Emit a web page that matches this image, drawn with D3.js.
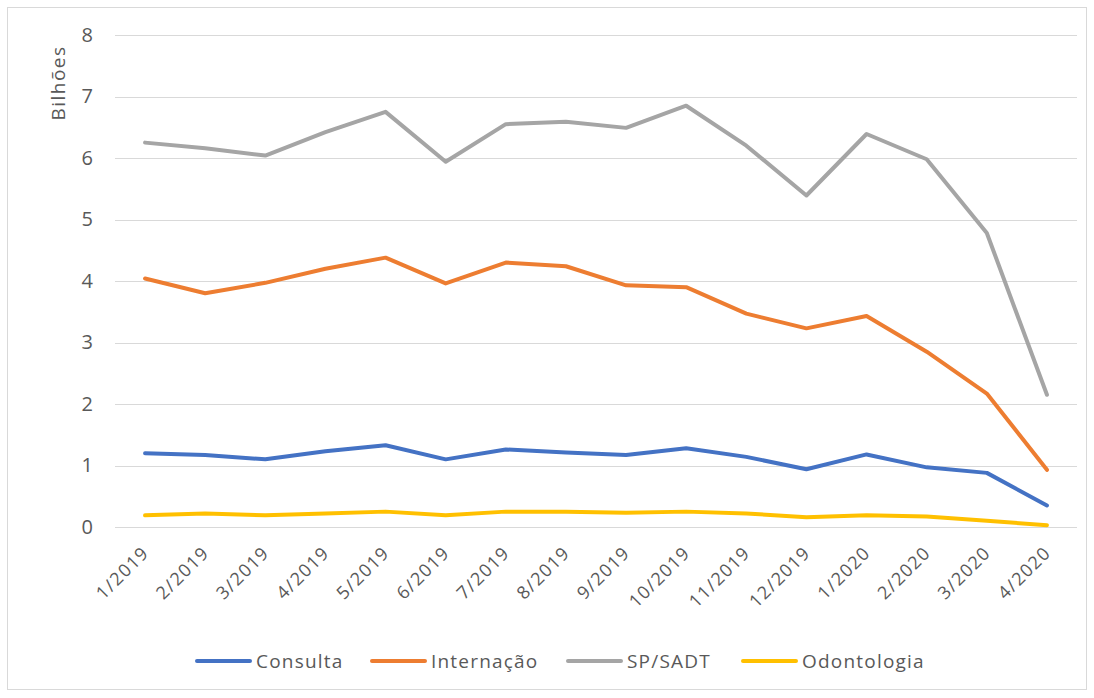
<!DOCTYPE html>
<html><head><meta charset="utf-8">
<script src="https://cdn.jsdelivr.net/npm/d3@7"></script>
<style>body{margin:0;background:#fff;}svg{display:block;font-family:"Open Sans",sans-serif;}</style>
</head><body>
<svg id="c" width="1094" height="698"></svg>
<script>
const categories = ["1/2019","2/2019","3/2019","4/2019","5/2019","6/2019","7/2019","8/2019","9/2019","10/2019","11/2019","12/2019","1/2020","2/2020","3/2020","4/2020"];
const consulta    = [1.20,1.17,1.10,1.23,1.33,1.10,1.26,1.21,1.17,1.28,1.14,0.94,1.18,0.97,0.88,0.35];
const internacao  = [4.04,3.80,3.97,4.20,4.38,3.96,4.30,4.24,3.93,3.90,3.47,3.23,3.43,2.85,2.17,0.93];
const spsadt      = [6.25,6.16,6.04,6.42,6.75,5.94,6.55,6.59,6.49,6.85,6.20,5.39,6.39,5.98,4.78,2.15];
const odontologia = [0.19,0.22,0.19,0.22,0.25,0.19,0.25,0.25,0.23,0.25,0.22,0.16,0.19,0.17,0.10,0.03];
const seriesNames = ["Consulta","Internação","SP/SADT","Odontologia"];
const yTicks = [0,1,2,3,4,5,6,7,8];
const yTitle = "Bilhões";

const colors = ["#4472C4","#ED7D31","#A5A5A5","#FFC000"];
const series = [consulta, internacao, spsadt, odontologia];

const svg = d3.select("#c");
svg.append("rect").attr("x",7.5).attr("y",7.5).attr("width",1079).attr("height",682)
  .attr("fill","#fff").attr("stroke","#D9D9D9");

const x = d3.scaleBand().domain(categories).range([115,1077]);
const y = d3.scaleLinear().domain([0,8]).range([527,35]);

// gridlines
svg.append("g").selectAll("line").data(yTicks).join("line")
  .attr("x1",115).attr("x2",1077)
  .attr("y1",d=>Math.round(y(d))+0.5).attr("y2",d=>Math.round(y(d))+0.5)
  .attr("stroke","#D9D9D9").attr("stroke-width",1.2);

// y axis labels
const yAxis = d3.axisLeft(y).tickValues(yTicks).tickSize(0).tickPadding(0).tickFormat(d3.format("d"));
const gy = svg.append("g").attr("transform","translate(93,0)").call(yAxis);
gy.select(".domain").remove();
gy.selectAll("text").attr("fill","#595959").style("font-size","20px").style("font-family","'Open Sans',sans-serif");

// y title
svg.append("text").attr("transform","translate(65,83) rotate(-90)")
  .attr("text-anchor","middle").attr("fill","#595959").style("font-size","19px")
  .style("letter-spacing","1.5px").text(yTitle);

// x axis labels
const xAxis = d3.axisBottom(x).tickSize(0).tickPadding(0);
const gx = svg.append("g").attr("transform","translate(0,527)").call(xAxis);
gx.select(".domain").remove();
gx.selectAll("text").attr("fill","#595959").style("font-size","18px").style("font-family","'Open Sans',sans-serif")
  .style("letter-spacing","1.3px")
  .attr("text-anchor","end").attr("dy","0").attr("y",0)
  .attr("transform","translate(5,27) rotate(-45)");

// lines
const line = d3.line().x((d,i)=>x(categories[i])+x.bandwidth()/2).y(d=>y(d));
series.forEach((s,k)=>{
  svg.append("path").datum(s).attr("d",line).attr("fill","none")
    .attr("stroke",colors[k]).attr("stroke-width",4).attr("stroke-linejoin","round").attr("stroke-linecap","round");
});

// legend
const legX = [197,372,568,743];
const lg = svg.append("g");
seriesNames.forEach((n,k)=>{
  lg.append("line").attr("x1",legX[k]).attr("x2",legX[k]+53).attr("y1",661).attr("y2",661)
    .attr("stroke",colors[k]).attr("stroke-width",4).attr("stroke-linecap","round");
  lg.append("text").attr("x",legX[k]+59).attr("y",668).attr("fill","#595959").style("font-size","19px")
    .style("letter-spacing","1.2px").text(n);
});
</script>
</body></html>
